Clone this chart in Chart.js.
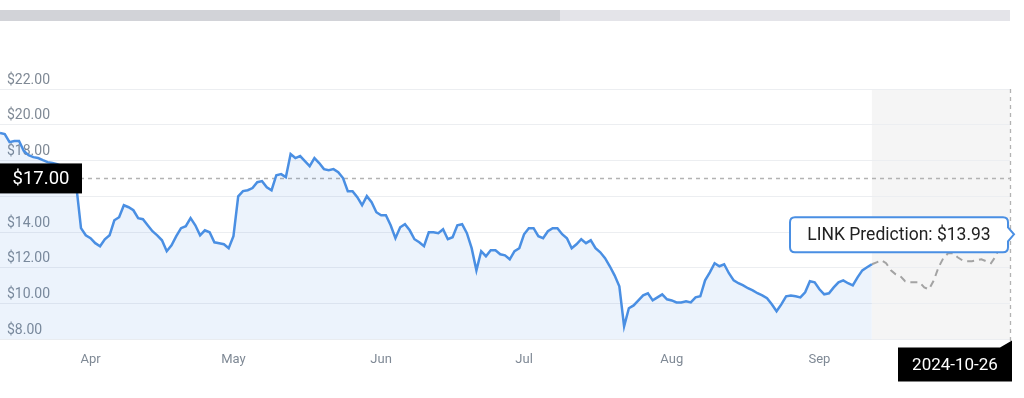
<!DOCTYPE html>
<html>
<head>
<meta charset="utf-8">
<script src="https://cdn.jsdelivr.net/npm/chart.js@4.4.1/dist/chart.umd.min.js"></script>
<style>
  html, body { margin: 0; padding: 0; background: #fff; }
  #wrap { position: relative; width: 1024px; height: 398px; }
  .bar { position: absolute; top: 10px; height: 11px; }
  #barDone { left: 0; width: 560px; background: #d2d3d8; }
  #barRest { left: 560px; width: 450px; background: #e4e4e9; }
  canvas { position: absolute; left: 0; top: 0; }
</style>
</head>
<body>
<div id="wrap">
  <canvas id="linkChart" width="1024" height="398"></canvas>
  <div class="bar" id="barDone"></div>
  <div class="bar" id="barRest"></div>
</div>
<script>
// daily closes, 2024-03-28 .. 2024-09-27
const historyPrices = [
  19.54, 19.48, 19.03, 19.09, 19.09, 18.53, 18.30, 18.19, 18.14, 18.02,
  17.91, 17.86, 17.80, 17.69, 17.58, 17.35, 16.62, 14.22, 13.82, 13.66,
  13.38, 13.21, 13.60, 13.82, 14.66, 14.83, 15.50, 15.39, 15.22, 14.78,
  14.72, 14.38, 14.05, 13.82, 13.54, 12.93, 13.26, 13.77, 14.22, 14.33,
  14.78, 14.38, 13.82, 14.10, 13.99, 13.43, 13.38, 13.32, 13.10, 13.77,
  16.00, 16.29, 16.34, 16.46, 16.79, 16.85, 16.51, 16.34, 17.18, 17.24,
  17.07, 18.36, 18.14, 18.25, 17.97, 17.69, 18.14, 17.86, 17.52, 17.46,
  17.52, 17.35, 17.02, 16.29, 16.29, 15.95, 15.50, 16.01, 15.67, 15.11,
  14.94, 14.94, 14.38, 13.66, 14.27, 14.44, 14.10, 13.60, 13.43, 13.21,
  13.99, 13.99, 13.94, 14.16, 13.60, 13.71, 14.38, 14.44, 13.94, 13.10,
  11.86, 12.93, 12.65, 12.98, 12.98, 12.76, 12.70, 12.48, 12.93, 13.10,
  13.88, 14.22, 14.22, 13.77, 13.66, 14.05, 14.22, 14.22, 13.88, 13.66,
  13.10, 13.32, 13.60, 13.38, 13.54, 13.10, 12.87, 12.54, 12.09, 11.58,
  10.97, 8.73, 9.74, 9.90, 10.18, 10.46, 10.58, 10.18, 10.35, 10.52,
  10.24, 10.18, 10.07, 10.07, 10.13, 10.07, 10.35, 10.41, 11.30, 11.75,
  12.26, 12.09, 12.20, 11.70, 11.30, 11.14, 11.02, 10.86, 10.74, 10.58,
  10.46, 10.30, 9.96, 9.57, 9.96, 10.41, 10.46, 10.41, 10.35, 10.63,
  11.25, 11.19, 10.80, 10.52, 10.58, 10.91, 11.19, 11.30, 11.14, 11.02,
  11.47, 11.86, 12.03, 12.20
];

// forecast, 2024-09-27 .. 2024-10-26
const predictionPrices = [
  12.20, 12.31, 12.42, 12.26, 11.86, 11.64, 11.53, 11.25, 11.19, 11.19,
  11.19, 10.91, 10.80, 11.30, 12.03, 12.54, 12.82, 12.82, 12.59, 12.42,
  12.37, 12.37, 12.42, 12.48, 12.37, 12.26, 12.65, 13.26, 13.71, 13.93
];

const monthTicks = ['Apr', 'May', 'Jun', 'Jul', 'Aug', 'Sep'];
const yTicks = [8, 10, 12, 14, 16, 18, 20, 22];
const levelPrice = 17.00;
const coinName = 'LINK';
const firstDay = '2024-03-28';
const lastDay = '2024-10-26';

// one category per day
const labels = [];
for (let d = new Date(firstDay + 'T00:00:00Z'); d <= new Date(lastDay + 'T00:00:00Z'); d.setUTCDate(d.getUTCDate() + 1)) {
  labels.push(d.toISOString().slice(0, 10));
}
const monthShort = ['Jan','Feb','Mar','Apr','May','Jun','Jul','Aug','Sep','Oct','Nov','Dec'];

const histData = historyPrices.concat(Array(labels.length - historyPrices.length).fill(null));
const predData = Array(labels.length - predictionPrices.length).fill(null).concat(predictionPrices);
const lastHist = historyPrices.length - 1;

const FONT = 'Roboto';
Chart.defaults.font.family = FONT;

const overlay = {
  id: 'overlay',
  beforeDraw(chart) {
    const { ctx, chartArea: a, scales: { x } } = chart;
    const xs = x.getPixelForValue(lastHist);
    ctx.save();
    ctx.fillStyle = '#f5f5f5';
    ctx.fillRect(xs, a.top, a.right - xs, a.bottom - a.top);
    ctx.restore();
  },
  beforeDatasetsDraw(chart) {
    const { ctx, chartArea: a, scales: { x, y } } = chart;
    const yl = Math.round(y.getPixelForValue(levelPrice)) + 0.5;
    const xe = Math.round(x.getPixelForValue(labels.length - 1)) + 0.5;
    ctx.save();
    ctx.strokeStyle = '#b3b3b3';
    ctx.lineWidth = 1.3;
    ctx.setLineDash([4, 4]);
    ctx.beginPath();
    ctx.moveTo(a.left, yl);
    ctx.lineTo(a.right, yl);
    ctx.moveTo(xe, a.top);
    ctx.lineTo(xe, a.bottom + 2);
    ctx.stroke();
    ctx.restore();
  },
  afterDraw(chart) {
    const { ctx, scales: { x, y } } = chart;
    const yl = y.getPixelForValue(levelPrice);
    const xe = x.getPixelForValue(labels.length - 1);
    const last = predictionPrices[predictionPrices.length - 1];
    const yp = y.getPixelForValue(last);
    ctx.save();
    ctx.textAlign = 'center';
    ctx.textBaseline = 'middle';

    // level tag on the left
    ctx.fillStyle = '#000';
    ctx.fillRect(0, yl - 15, 82, 30);
    ctx.fillStyle = '#fff';
    ctx.font = '18.5px ' + FONT;
    ctx.fillText('$' + levelPrice.toFixed(2), 41, yl + 1);

    // end date tag under the axis
    const bottom = chart.chartArea.bottom;
    ctx.fillStyle = '#000';
    ctx.beginPath();
    ctx.moveTo(898, bottom + 8);
    ctx.lineTo(xe - 10, bottom + 8);
    ctx.lineTo(xe + 2, bottom + 1);
    ctx.lineTo(xe + 2, bottom + 42);
    ctx.lineTo(898, bottom + 42);
    ctx.closePath();
    ctx.fill();
    ctx.fillStyle = '#fff';
    ctx.font = '17px ' + FONT;
    ctx.fillText(labels[labels.length - 1], 955, bottom + 26);

    // prediction callout
    const r = xe - 2, l = r - 218, t = yp - 16, b = yp + 19, rad = 5;
    ctx.beginPath();
    ctx.moveTo(l + rad, t);
    ctx.lineTo(r - rad, t);
    ctx.quadraticCurveTo(r, t, r, t + rad);
    ctx.lineTo(r, yp - 6);
    ctx.lineTo(r + 6, yp + 1);
    ctx.lineTo(r, yp + 8);
    ctx.lineTo(r, b - rad);
    ctx.quadraticCurveTo(r, b, r - rad, b);
    ctx.lineTo(l + rad, b);
    ctx.quadraticCurveTo(l, b, l, b - rad);
    ctx.lineTo(l, t + rad);
    ctx.quadraticCurveTo(l, t, l + rad, t);
    ctx.closePath();
    ctx.fillStyle = '#fff';
    ctx.fill();
    ctx.strokeStyle = '#4a8fe3';
    ctx.lineWidth = 2;
    ctx.stroke();
    ctx.fillStyle = '#222';
    ctx.font = '17.5px ' + FONT;
    ctx.fillText(coinName + ' Prediction: $' + last.toFixed(2), (l + r) / 2, (t + b) / 2 + 1);
    ctx.restore();
  }
};

new Chart(document.getElementById('linkChart'), {
  type: 'line',
  data: {
    labels: labels,
    datasets: [{
      label: 'Price',
      data: histData,
      borderColor: '#4a8fe3',
      backgroundColor: 'rgba(66, 135, 226, 0.1)',
      borderWidth: 2.5,
      pointRadius: 0,
      fill: 'start',
      tension: 0
    }, {
      label: 'Prediction',
      data: predData,
      borderColor: '#a3a3a3',
      borderWidth: 2,
      borderDash: [7, 5],
      pointRadius: 0,
      fill: false,
      tension: 0
    }]
  },
  options: {
    responsive: false,
    animation: false,
    layout: { padding: { top: 89, right: 14, bottom: 30, left: 0 } },
    plugins: {
      legend: { display: false },
      tooltip: { enabled: false }
    },
    scales: {
      x: {
        grid: { display: false, drawTicks: true, tickLength: 13 },
        border: { display: false },
        ticks: {
          autoSkip: false,
          maxRotation: 0,
          minRotation: 0,
          padding: 0,
          color: '#7f8995',
          font: { size: 13 },
          callback: function (v) {
            const s = labels[v];
            const m = monthShort[+s.slice(5, 7) - 1];
            return s.slice(8) === '16' && monthTicks.includes(m) ? m : '';
          }
        }
      },
      y: {
        min: yTicks[0],
        max: yTicks[yTicks.length - 1],
        afterFit: function (scale) { scale.width = 0; },
        afterBuildTicks: function (scale) { scale.ticks = yTicks.map(v => ({ value: v })); },
        grid: { color: '#eceef1', drawTicks: false },
        border: { display: false },
        ticks: {
          mirror: true,
          padding: 7,
          labelOffset: -9,
          color: '#7f8995',
          font: { size: 14 },
          callback: v => '$' + v.toFixed(2)
        }
      }
    }
  },
  plugins: [overlay]
});
</script>
</body>
</html>
